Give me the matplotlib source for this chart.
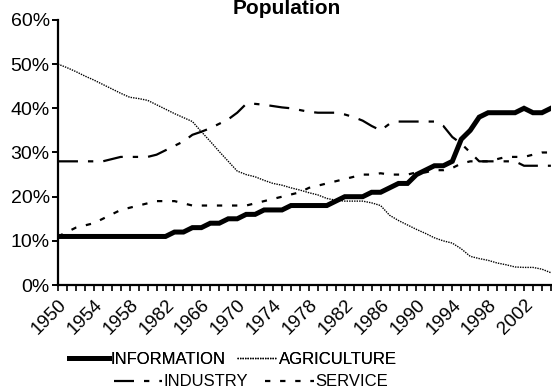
import matplotlib
matplotlib.use("Agg")
import matplotlib.pyplot as plt
from matplotlib.lines import Line2D
from matplotlib.ticker import FixedLocator, PercentFormatter

plt.rcParams["font.family"] = ["Liberation Sans", "DejaVu Sans"]

# one category per year, 1950-2005
years = list(range(1950, 2006))

# year labels shown every fourth year (as printed on the axis)
year_labels = ["1950", "1954", "1958", "1982", "1966", "1970", "1974",
               "1978", "1982", "1986", "1990", "1994", "1998", "2002"]

information = [11, 11, 11, 11, 11, 11, 11, 11, 11, 11, 11, 11, 11, 12, 12, 13,
               13, 14, 14, 15, 15, 16, 16, 17, 17, 17, 18, 18, 18, 18, 18, 19,
               20, 20, 20, 21, 21, 22, 23, 23, 25, 26, 27, 27, 28, 33, 35, 38,
               39, 39, 39, 39, 40, 39, 39, 40]

agriculture = [50, 49.2, 48.3, 47.3, 46.4, 45.4, 44.4, 43.4, 42.5, 42.2, 41.8,
               40.8, 39.8, 38.8, 37.9, 37.0, 34.7, 32.5, 30.2, 28.0, 25.8, 25.0,
               24.5, 23.7, 23.0, 22.6, 22.0, 21.5, 20.9, 20.4, 19.6, 19.2, 19.0,
               19.0, 19.0, 18.6, 18.0, 15.8, 14.6, 13.6, 12.6, 11.7, 10.7, 10.0,
               9.5, 8.2, 6.5, 6.0, 5.6, 5.0, 4.6, 4.1, 4.0, 4.0, 3.6, 2.8]

industry = [28, 28, 28, 28, 28, 28, 28.5, 29, 29, 29, 29, 29.5, 30.5, 31.5,
            32.5, 34, 34.7, 35.5, 36.5, 37.5, 39, 41, 41, 40.8, 40.5, 40.2, 40,
            39.6, 39.2, 39, 39, 39, 38.6, 38, 37.2, 36, 35, 36.5, 37, 37, 37,
            37, 37, 36, 33.5, 32, 30, 28, 28, 28, 28, 28, 27, 27, 27, 27]

service = [11, 12, 13, 13.5, 14, 15, 16, 17, 17.5, 18, 18.5, 19, 19, 19, 18.5,
           18, 18, 18, 18, 18, 18, 18, 18.5, 19, 19.5, 20, 20.5, 21, 22, 22.5,
           23, 23.5, 24, 24.5, 25, 25, 25.3, 25, 25, 25, 25.5, 25.5, 26, 26,
           26.5, 27.5, 28, 28, 28, 28.5, 29, 29, 29, 29.5, 30, 30]

fig = plt.figure(figsize=(5.52, 3.90), dpi=100)
ax = fig.add_axes([0.105, 0.269, 0.893, 0.680])

x = list(range(len(years)))
styles = {
    "INFORMATION": dict(lw=3.6, ls="-", solid_joinstyle="miter"),
    "AGRICULTURE": dict(lw=1.0, ls=(0, (1, 0.8))),
    "INDUSTRY": dict(lw=1.6, ls=(0, (9.0, 4.5, 2.4, 4.5))),
    "SERVICE": dict(lw=1.6, ls=(0, (2.4, 4.4))),
}
series = {
    "INFORMATION": information,
    "AGRICULTURE": agriculture,
    "INDUSTRY": industry,
    "SERVICE": service,
}
for name, vals in series.items():
    ax.plot(x, vals, color="black", **styles[name])

ax.set_xlim(0, len(years) - 1)
ax.set_ylim(0, 60)
ax.set_yticks(range(0, 61, 10))
ax.yaxis.set_major_formatter(PercentFormatter(decimals=0))

label_pos = [years.index(y) for y in years if (y - 1950) % 4 == 0][:len(year_labels)]
ax.set_xticks(label_pos)
ax.set_xticklabels(year_labels, rotation=45, ha="right", rotation_mode="anchor")
ax.xaxis.set_minor_locator(FixedLocator(x))

for side in ("top", "right"):
    ax.spines[side].set_visible(False)
for side in ("left", "bottom"):
    ax.spines[side].set_linewidth(1.6)

ax.tick_params(axis="y", direction="out", length=4, width=1.4, labelsize=14, pad=2)
ax.tick_params(axis="x", which="both", direction="out", length=4, width=1.2,
               labelsize=13.5, pad=4)

fig.text(0.52, 1 - 14 / 390, "Population", ha="center", va="baseline",
         fontsize=15, fontweight="bold")

def handle(name):
    return Line2D([], [], color="black", **styles[name])

leg_kw = dict(ncol=2, frameon=False, fontsize=12, handletextpad=0.1,
              borderpad=0, borderaxespad=0)
leg1 = fig.legend([handle("INFORMATION"), handle("AGRICULTURE")],
                  ["INFORMATION", "AGRICULTURE"], handlelength=2.4,
                  columnspacing=0.7, loc="center",
                  bbox_to_anchor=(233 / 552, 1 - 359 / 390), **leg_kw)
fig.add_artist(leg1)
fig.legend([handle("INDUSTRY"), handle("SERVICE")], ["INDUSTRY", "SERVICE"],
           handlelength=2.9, columnspacing=1.0, loc="center",
           bbox_to_anchor=(251 / 552, 1 - 382 / 390), **leg_kw)

fig.savefig("out.png", dpi=100)
